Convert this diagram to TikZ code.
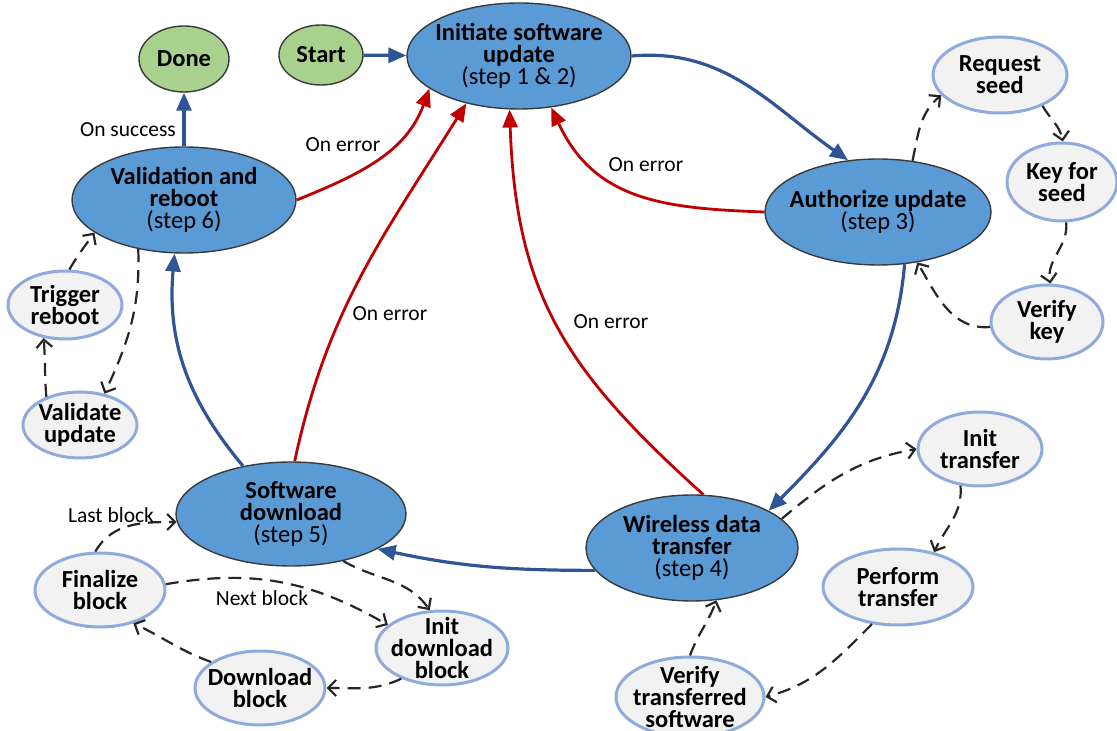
\documentclass[tikz,border=0pt]{standalone}
\usepackage{fontspec}
\setmainfont{Carlito}
\usetikzlibrary{shapes.geometric,arrows.meta}
\definecolor{stepfill}{HTML}{5B9BD5}
\definecolor{endfill}{HTML}{A9D18E}
\definecolor{subfill}{HTML}{F2F2F2}
\definecolor{subline}{HTML}{8FAADC}
\definecolor{outl}{HTML}{3A3A3A}
\definecolor{flowblue}{HTML}{2F5597}
\definecolor{errred}{HTML}{C00000}
\definecolor{dashcol}{HTML}{262626}
\newcommand\nodetext{\fontsize{24.5}{22}\selectfont}
\newcommand\labeltext{\fontsize{21.5}{24}\selectfont}

\tikzset{
  oval/.style n args={2}{ellipse, minimum width=#1, minimum height=#2,
    inner xsep=-40pt, inner ysep=-20pt, align=center, font=\nodetext},
  stepnode/.style={fill=stepfill, draw=outl, line width=1.4pt},
  endnode/.style={fill=endfill, draw=outl, line width=1.4pt},
  subnode/.style={fill=subfill, draw=subline, line width=3pt},
  flow/.style={draw=flowblue, line width=3.2pt, -{Triangle[length=18pt,width=15pt]}},
  errflow/.style={draw=errred, line width=2.8pt, -{Triangle[length=18pt,width=15pt]}},
  subflow/.style={draw=dashcol, line width=2.2pt, dash pattern=on 13pt off 8pt,
    -{Straight Barb[length=8pt,width=16pt]}},
  lbl/.style={font=\labeltext, inner sep=0pt}
}

\begin{document}
\begin{tikzpicture}[x=1pt,y=1pt]
\useasboundingbox (0,0) rectangle (1117,731);

% main steps
\node[oval={224}{106}, stepnode] (Init) at (519,675)
  {\textbf{Initiate software}\\\textbf{update}\\(step 1 \& 2)};
\node[oval={226}{106}, stepnode] (Auth) at (878,519)
  {\textbf{Authorize update}\\(step 3)};
\node[oval={212}{106}, stepnode] (Wless) at (692,183)
  {\textbf{Wireless data}\\\textbf{transfer}\\(step 4)};
\node[oval={230}{104}, stepnode] (SwDl) at (291,217)
  {\textbf{Software}\\\textbf{download}\\(step 5)};
\node[oval={224}{106}, stepnode] (Valid) at (184,531)
  {\textbf{Validation and}\\\textbf{reboot}\\(step 6)};

% start and end states
\node[oval={84}{60}, endnode] (Start) at (321,676) {\textbf{Start}};
\node[oval={90}{66}, endnode] (Done) at (184,672) {\textbf{Done}};

% sub-steps
\node[oval={134}{76}, subnode] (ReqSeed) at (1000,656) {\textbf{Request}\\\textbf{seed}};
\node[oval={110}{78}, subnode] (KeySeed) at (1062,549) {\textbf{Key for}\\\textbf{seed}};
\node[oval={112}{74}, subnode] (VerKey) at (1047,409) {\textbf{Verify}\\\textbf{key}};
\node[oval={114}{68}, subnode] (Trigger) at (65,426) {\textbf{Trigger}\\\textbf{reboot}};
\node[oval={114}{66}, subnode] (ValUpd) at (80,306) {\textbf{Validate}\\\textbf{update}};
\node[oval={130}{74}, subnode] (Final) at (100,141) {\textbf{Finalize}\\\textbf{block}};
\node[oval={130}{74}, subnode] (DlBlock) at (260,43) {\textbf{Download}\\\textbf{block}};
\node[oval={132}{74}, subnode] (InitDl) at (442,83) {\textbf{Init}\\\textbf{download}\\\textbf{block}};
\node[oval={124}{74}, subnode] (InitTr) at (980,282) {\textbf{Init}\\\textbf{transfer}};
\node[oval={150}{76}, subnode] (Perform) at (898,144) {\textbf{Perform}\\\textbf{transfer}};
\node[oval={148}{80}, subnode] (VerTr) at (690,34) {\textbf{Verify}\\\textbf{transferred}\\\textbf{software}};

% main flow
\draw[flow] (Start) -- (Init);
\draw[flow] (Init.east) to[out=5,in=145] (Auth.120);
\draw[flow] (Auth.-63) to[out=-95,in=45] (Wless.26);
\draw[flow] (Wless.193) to[out=180,in=-12] (SwDl.-22);
\draw[flow] (SwDl.135) to[out=130,in=-95] (Valid.-100);
\draw[flow] (Valid) -- (Done);

% error returns
\draw[errflow] (Valid.east) to[out=22,in=250] (Init.200);
\draw[errflow] (SwDl.86) to[out=78,in=238] (Init.222);
\draw[errflow] (Wless.78) to[out=138,in=-88,looseness=1.1] (Init.260);
\draw[errflow] (Auth.west) to[out=178,in=-65,looseness=1.1] (Init.-58);

% authorization loop
\draw[subflow] (Auth.56) to[out=78,in=220] (ReqSeed.199);
\draw[subflow] (ReqSeed.-36) to[out=-60,in=100] (KeySeed.89);
\draw[subflow] (KeySeed.-84) to[out=-85,in=100] (VerKey.85);
\draw[subflow] (VerKey.185) to[out=185,in=-60] (Auth.-52);

% validation loop
\draw[subflow] (Valid.-133) to[out=-88,in=65] (ValUpd.52);
\draw[subflow] (ValUpd.140) to[out=95,in=-85] (Trigger.-123);
\draw[subflow] (Trigger.83) to[out=60,in=-125] (Valid.200);

% download loop
\draw[subflow] (SwDl.-42) to[out=-30,in=125] (InitDl.108);
\draw[subflow] (InitDl.217) to[out=205,in=0] (DlBlock.east);
\draw[subflow] (DlBlock.152) to[out=160,in=-25] (Final.-45);
\draw[subflow] (Final.5) to[out=10,in=150] (InitDl.157);
\draw[subflow] (Final.97) to[out=60,in=180] (SwDl.184);

% transfer loop
\draw[subflow] (Wless.18) to[out=40,in=190] (InitTr.west);
\draw[subflow] (InitTr.242) to[out=-85,in=65] (Perform.44);
\draw[subflow] (Perform.235) to[out=225,in=15] (VerTr.east);
\draw[subflow] (VerTr.north) to[out=70,in=-110] (Wless.-65);

% edge labels
\node[lbl] (err1) at (343,586) {On error};
\node[lbl] (err2) at (390,417) {On error};
\node[lbl] (err3) at (611,409) {On error};
\node[lbl] (err4) at (646,566) {On error};
\node[lbl] (okay) at (128,601) {On success};
\node[lbl] (lastb) at (111,216) {Last block};
\node[lbl] (nextb) at (262,133) {Next block};
\end{tikzpicture}
\end{document}
